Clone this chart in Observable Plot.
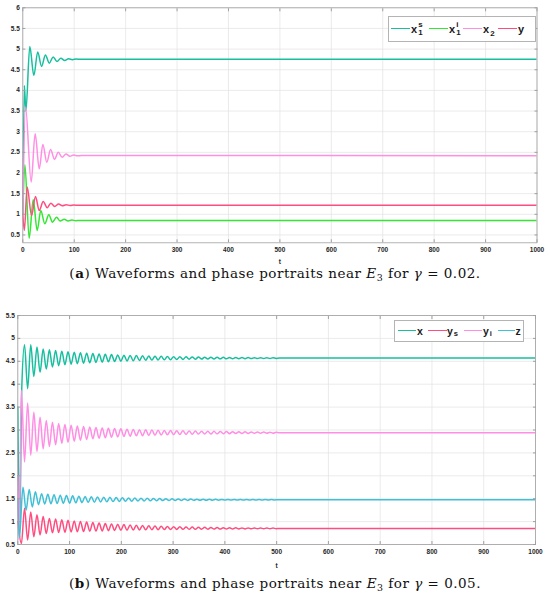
<!DOCTYPE html>
<html><head><meta charset="utf-8">
<script src="https://cdn.jsdelivr.net/npm/d3@7"></script>
<script src="https://cdn.jsdelivr.net/npm/@observablehq/plot@0.6"></script>
<style>
body{margin:0;background:#fff;}
#wrap{position:relative;width:550px;height:597px;overflow:hidden;font-family:"Liberation Sans",Arial,sans-serif;}
.panel{position:absolute;left:0;}
.cap{position:absolute;left:0;width:550px;text-align:center;font-family:"DejaVu Serif",serif;font-size:13.5px;letter-spacing:0.5px;color:#111;line-height:14px;white-space:nowrap;}
.cap sub{font-size:0.7em;vertical-align:-0.3em;line-height:0;}
.legend{position:absolute;background:#fff;border:1px solid #b4b4b4;box-sizing:border-box;font-weight:bold;color:#1a1a1a;}
.legend .sw{position:absolute;top:50%;height:0;border-top:1.5px solid;margin-top:-0.75px;}
.legend .lab{position:absolute;top:0;height:100%;display:flex;align-items:center;line-height:1;}
.stk{display:inline-flex;flex-direction:column;font-size:0.72em;margin-left:1px;}
.stk span{line-height:1.05em;display:block;}
.sb{font-size:0.72em;align-self:flex-end;margin-bottom:3px;margin-left:1px;}
</style></head>
<body><div id="wrap"></div>
<script>
// ---------- axes ----------
const xTicks = [0,100,200,300,400,500,600,700,800,900,1000];
const aYTicks = [0.5,1,1.5,2,2.5,3,3.5,4,4.5,5,5.5,6];
const bYTicks = [0.5,1,1.5,2,2.5,3,3.5,4,4.5,5,5.5];
const aYDomain = [0.31, 6];
const bYDomain = [0.5, 5.5];

// ---------- panel (a): gamma = 0.02 (extremum times / values) ----------
const aT_x1s = [0,3,6,13.6,21.5,29,36.5,44,51.5,59,66.5,74,81.5,89,96.5,104,111.5,119,1000];
const aV_x1s = [1.0,4.12,3.5,5.06,4.36,4.93,4.58,4.86,4.66,4.81,4.70,4.78,4.725,4.765,4.745,4.76,4.752,4.757,4.755];
const aT_x1i = [0,4,12.4,20.2,28,35,42.8,50.6,57.8,65.6,72.7,80.5,88,95.5,103,110.5,1000];
const aV_x1i = [1.0,2.2,0.42,1.35,0.61,1.09,0.77,0.99,0.81,0.93,0.835,0.88,0.84,0.86,0.845,0.852,0.85];
const aT_x2 = [0,5.3,16.3,24,32,39,46.7,54,61.7,69,76.6,84,91.6,99,106.6,114,1000];
const aV_x2 = [1.0,3.6,1.78,2.95,2.10,2.69,2.26,2.57,2.33,2.50,2.38,2.46,2.405,2.435,2.415,2.425,2.42];
const aT_y = [0,3,8.5,17,24.7,32,39.7,47.5,54.5,62,69.5,77,84.5,92,99.5,107,1000];
const aV_y = [1.0,0.61,1.66,0.97,1.43,1.09,1.31,1.16,1.27,1.19,1.25,1.205,1.232,1.213,1.225,1.217,1.22];

// ---------- panel (b): gamma = 0.05 ----------
const bT = [13,19,25,31,37,43,49,55,61,67,
  73,79,85,91,97,103,109,115,121,127,
  133,139,145,151,157,163,169,175,181,187,
  193,199,205,211,217,223,229,235,241,247,
  253,259,265,271,277,283,289,295,301,307,
  313,319,325,331,337,343,349,355,361,367,
  373,379,385,391,397,403,409,415,421,427,
  433,439,445,451,457,463,469,475,481,487,
  493,499];
const bTz = [10,16,22,28,34,40,46,52,58,64,
  70,76,82,88,94,100,106,112,118,124,
  130,136,142,148,154,160,166,172,178,184,
  190,196,202,208,214,220,226,232,238,244,
  250,256,262,268,274,280,286,292,298,304,
  310,316,322,328,334,340,346,352,358,364,
  370,376,382,388,394,400,406,412,418,424,
  430,436,442,448,454,460,466,472,478,484,
  490,496];
const bTEnd = [505, 1000];
const bTzEnd = [502, 1000];

const bHeadT_x = [0,3.5,7.5];  const bHeadV_x = [3.5,0.65,3.85];
const bX = [4.86,3.90,4.86,4.17,4.81,4.26,4.77,4.33,4.75,4.375,
  4.735,4.405,4.72,4.425,4.71,4.437,4.698,4.448,4.687,4.458,
  4.678,4.467,4.669,4.475,4.661,4.483,4.653,4.49,4.646,4.497,
  4.64,4.503,4.634,4.508,4.629,4.513,4.624,4.518,4.62,4.522,
  4.616,4.526,4.612,4.53,4.608,4.533,4.605,4.536,4.602,4.539,
  4.60,4.542,4.597,4.544,4.595,4.546,4.593,4.548,4.591,4.55,
  4.589,4.552,4.588,4.553,4.586,4.555,4.585,4.556,4.583,4.557,
  4.582,4.558,4.581,4.559,4.58,4.56,4.579,4.561,4.578,4.562,
  4.578,4.563];
const bXEnd = [4.57, 4.57];

const bHeadT_ys = [0,7];  const bHeadV_ys = [1.0,0.52];
const bYs = [1.29,0.60,1.21,0.67,1.15,0.71,1.11,0.74,1.07,0.755,
  1.055,0.762,1.04,0.768,1.027,0.774,1.015,0.779,1.001,0.784,
  0.989,0.789,0.978,0.793,0.967,0.797,0.958,0.802,0.949,0.807,
  0.942,0.81,0.934,0.813,0.927,0.816,0.92,0.819,0.915,0.82,
  0.909,0.822,0.903,0.824,0.897,0.826,0.893,0.828,0.889,0.83,
  0.887,0.831,0.883,0.832,0.88,0.833,0.877,0.834,0.875,0.835,
  0.872,0.837,0.87,0.837,0.868,0.838,0.866,0.839,0.864,0.84,
  0.863,0.841,0.862,0.842,0.861,0.843,0.86,0.844,0.859,0.845,
  0.858,0.846];
const bYsEnd = [0.852, 0.852];

const bHeadT_yi = [0,2.5,7];  const bHeadV_yi = [2.0,0.6,3.87];
const bYi = [2.30,3.59,2.45,3.39,2.53,3.28,2.59,3.21,2.64,3.17,
  2.68,3.14,2.71,3.12,2.735,3.103,2.757,3.089,2.776,3.076,
  2.793,3.065,2.808,3.055,2.821,3.046,2.832,3.038,2.842,3.031,
  2.851,3.025,2.859,3.019,2.866,3.013,2.872,3.008,2.877,3.003,
  2.882,2.999,2.887,2.995,2.891,2.991,2.895,2.988,2.898,2.985,
  2.901,2.982,2.904,2.979,2.907,2.977,2.91,2.975,2.912,2.972,
  2.914,2.97,2.916,2.968,2.918,2.966,2.92,2.964,2.922,2.962,
  2.924,2.96,2.926,2.958,2.928,2.956,2.929,2.954,2.93,2.952,
  2.931,2.951];
const bYiEnd = [2.94, 2.94];

const bHeadT_z = [0,3];  const bHeadV_z = [1.5,0.65];
const bZ = [1.75,1.25,1.70,1.32,1.65,1.37,1.61,1.385,1.595,1.39,
  1.587,1.395,1.578,1.40,1.57,1.403,1.562,1.409,1.555,1.414,
  1.549,1.419,1.543,1.424,1.538,1.429,1.533,1.433,1.529,1.437,
  1.525,1.441,1.521,1.444,1.517,1.447,1.514,1.45,1.511,1.452,
  1.508,1.454,1.505,1.456,1.502,1.458,1.5,1.459,1.497,1.461,
  1.495,1.462,1.493,1.463,1.491,1.464,1.489,1.465,1.488,1.466,
  1.487,1.467,1.486,1.468,1.485,1.469,1.484,1.47,1.483,1.47,
  1.482,1.471,1.482,1.471,1.481,1.472,1.481,1.472,1.48,1.473,
  1.48,1.473];
const bZEnd = [1.476, 1.476];

// ---------- styles ----------
const C_TEAL = "#17bf9f", C_GREEN = "#35e635", C_PINK = "#ff8ee4", C_RED = "#ff4d80", C_CYAN = "#3fc0d6";

const series = (ts, vs) => ts.map((t, i) => ({t, v: vs[i]}));

function chart({height, mt, mb, ml, mr, yDomain, yTicks, lines, labelOffset}) {
  const ax = "#a0a0a0";
  return Plot.plot({
    width: 550, height, marginTop: mt, marginBottom: mb, marginLeft: ml, marginRight: mr,
    x: {type: "linear", domain: [0, 1000]},
    y: {type: "linear", domain: yDomain},
    style: {fontFamily: "'Liberation Sans', Arial, sans-serif", fontSize: "6.5px", fontWeight: "bold", color: "#262626", background: "transparent", overflow: "visible"},
    marks: [
      Plot.gridX(xTicks, {stroke: "#e2e2e2", strokeOpacity: 1, strokeWidth: 0.7}),
      Plot.gridY(yTicks, {stroke: "#e2e2e2", strokeOpacity: 1, strokeWidth: 0.7}),
      ...lines.map(l => Plot.line(l.data, {x: "t", y: "v", stroke: l.color, strokeWidth: 1.5, curve: "monotone-x", clip: true})),
      Plot.frame({stroke: ax, strokeWidth: 0.8}),
      Plot.axisX(xTicks, {anchor: "bottom", tickSize: 0, tickPadding: 4.5, tickFormat: d => String(d), label: "t", labelAnchor: "center", labelArrow: "none", labelOffset}),
      Plot.axisX(xTicks, {anchor: "bottom", tickSize: -3, tickFormat: () => "", stroke: ax, label: null}),
      Plot.axisX(xTicks, {anchor: "top", tickSize: -3, tickFormat: () => "", stroke: ax, label: null}),
      Plot.axisY(yTicks, {anchor: "left", tickSize: 0, tickPadding: 3, tickFormat: d => String(d), label: null}),
      Plot.axisY(yTicks, {anchor: "left", tickSize: -3, tickFormat: () => "", stroke: ax, label: null}),
      Plot.axisY(yTicks, {anchor: "right", tickSize: -3, tickFormat: () => "", stroke: ax, label: null})
    ]
  });
}

const wrap = document.getElementById("wrap");

const chartA = chart({
  height: 268, mt: 7.3, mb: 25.7, ml: 22.3, mr: 13.5, yDomain: aYDomain, yTicks: aYTicks, labelOffset: 21.5,
  lines: [
    {data: series(aT_x1s, aV_x1s), color: C_TEAL},
    {data: series(aT_x1i, aV_x1i), color: C_GREEN},
    {data: series(aT_x2, aV_x2), color: C_PINK},
    {data: series(aT_y, aV_y), color: C_RED}
  ]
});
chartA.classList.add("panel"); chartA.style.top = "0px";
wrap.appendChild(chartA);

const chartB = chart({
  height: 270, mt: 15, mb: 26, ml: 17.3, mr: 15, yDomain: bYDomain, yTicks: bYTicks, labelOffset: 23,
  lines: [
    {data: series([...bHeadT_x, ...bT, ...bTEnd], [...bHeadV_x, ...bX, ...bXEnd]), color: C_TEAL},
    {data: series([...bHeadT_ys, ...bT, ...bTEnd], [...bHeadV_ys, ...bYs, ...bYsEnd]), color: C_RED},
    {data: series([...bHeadT_yi, ...bT, ...bTEnd], [...bHeadV_yi, ...bYi, ...bYiEnd]), color: C_PINK},
    {data: series([...bHeadT_z, ...bTz, ...bTzEnd], [...bHeadV_z, ...bZ, ...bZEnd]), color: C_CYAN}
  ]
});
chartB.classList.add("panel"); chartB.style.top = "300px";
wrap.appendChild(chartB);

// ---------- legends & captions ----------
wrap.insertAdjacentHTML("beforeend", `
<div class="legend" style="left:388px;top:16px;width:148px;height:26px;font-size:11px">
  <span class="sw" style="left:2px;width:19px;border-color:${C_TEAL}"></span>
  <span class="lab" style="left:22px">x<span class="stk"><span>s</span><span>1</span></span></span>
  <span class="sw" style="left:40px;width:19px;border-color:${C_GREEN}"></span>
  <span class="lab" style="left:60px">x<span class="stk"><span>i</span><span>1</span></span></span>
  <span class="sw" style="left:74px;width:19px;border-color:${C_PINK}"></span>
  <span class="lab" style="left:94px">x<span class="sb">2</span></span>
  <span class="sw" style="left:109px;width:19px;border-color:${C_RED}"></span>
  <span class="lab" style="left:129px">y</span>
</div>
<div class="legend" style="left:394px;top:320px;width:130px;height:22px;font-size:10.5px">
  <span class="sw" style="left:2.5px;width:18.5px;border-color:${C_TEAL}"></span>
  <span class="lab" style="left:22px">x</span>
  <span class="sw" style="left:33px;width:18.5px;border-color:${C_RED}"></span>
  <span class="lab" style="left:52px">y<span class="sb">s</span></span>
  <span class="sw" style="left:68.5px;width:18.5px;border-color:${C_PINK}"></span>
  <span class="lab" style="left:88px">y<span class="sb">i</span></span>
  <span class="sw" style="left:102.5px;width:17px;border-color:${C_CYAN}"></span>
  <span class="lab" style="left:120.5px">z</span>
</div>
<div class="cap" style="top:266px">(<b>a</b>) Waveforms and phase portraits near <i>E</i><sub>3</sub> for <i>γ</i> = 0.02.</div>
<div class="cap" style="top:576px">(<b>b</b>) Waveforms and phase portraits near <i>E</i><sub>3</sub> for <i>γ</i> = 0.05.</div>
`);
</script>
</body></html>
